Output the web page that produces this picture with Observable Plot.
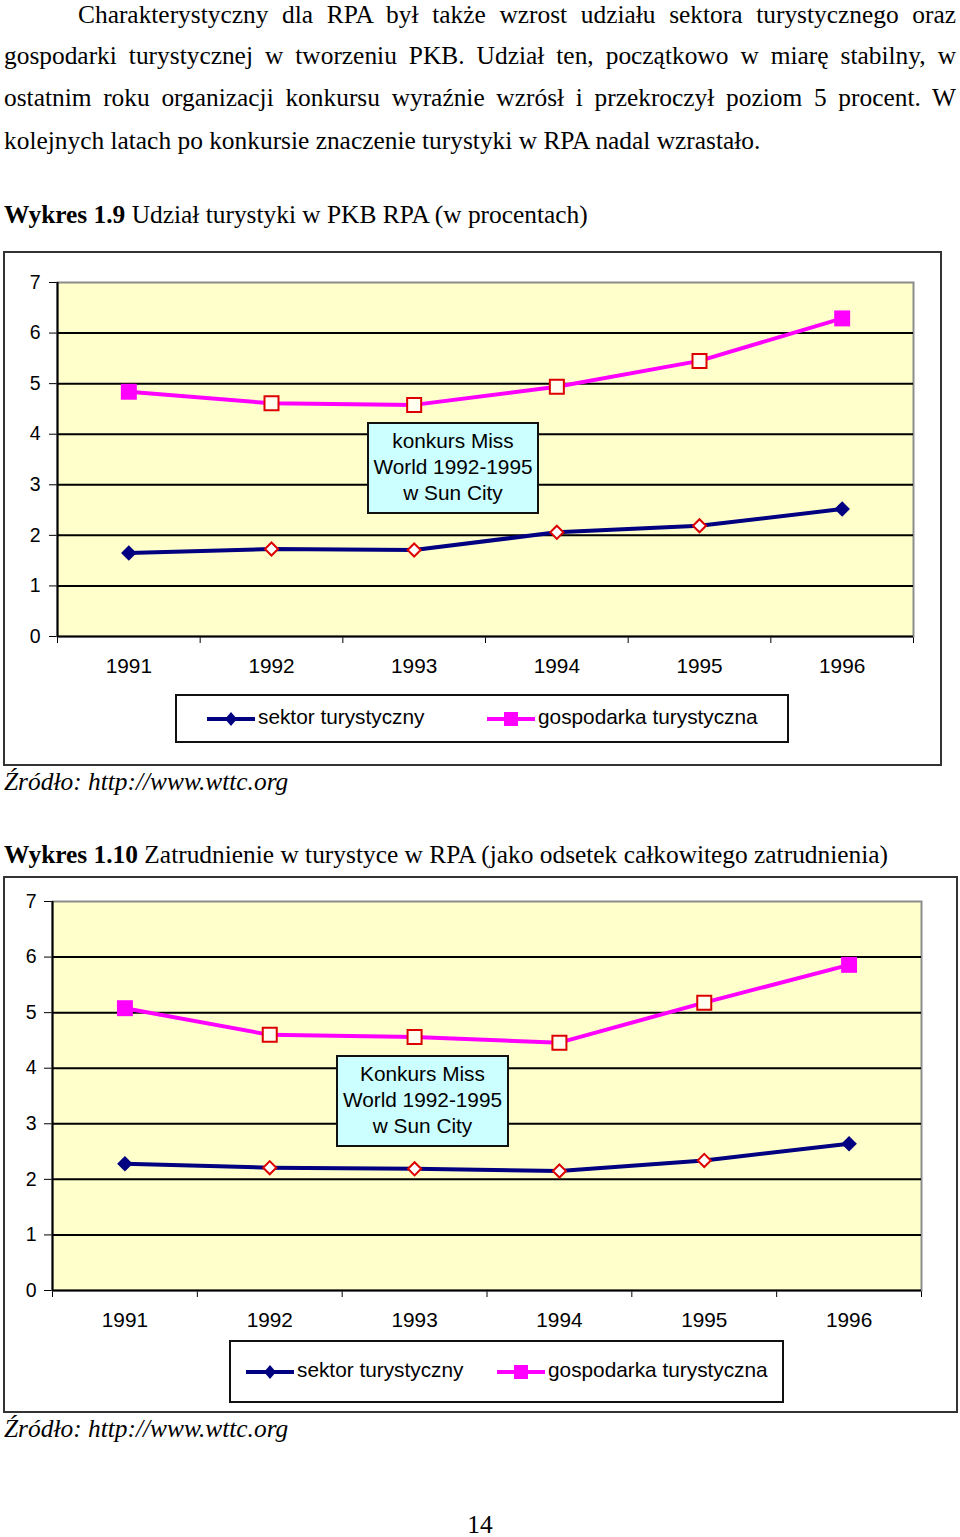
<!DOCTYPE html>
<html>
<head>
<meta charset="utf-8">
<script src="https://cdn.jsdelivr.net/npm/d3@7"></script>
<script src="https://cdn.jsdelivr.net/npm/@observablehq/plot@0.6"></script>
<style>
  html, body { margin: 0; padding: 0; background: #fff; }
  #page { position: relative; width: 960px; height: 1537px; overflow: hidden; background: #fff; color: #000; }
  .serif { font-family: "Liberation Serif", "Times New Roman", serif; font-size: 25.4px; line-height: 25px; position: absolute; white-space: nowrap; }
  .just { text-align: justify; text-align-last: justify; white-space: normal; }
  .box { position: absolute; box-sizing: border-box; border: 2px solid #333; }
  .note { position: absolute; box-sizing: border-box; border: 2px solid #111; background: #CCFFFF;
          font-family: "Liberation Sans", Arial, sans-serif; font-size: 20.8px; line-height: 26px;
          text-align: center; padding-top: 4px; white-space: nowrap; }
  .legend { position: absolute; box-sizing: border-box; border: 2px solid #111; background: #fff; }
  .legtext { position: absolute; font-family: "Liberation Sans", Arial, sans-serif; font-size: 20.8px; line-height: 20px; white-space: nowrap; }
  .sw { position: absolute; }
  .chart { position: absolute; }
</style>
</head>
<body>
<div id="page"></div>
<script>
// ---------- data ----------
const years = [1991, 1992, 1993, 1994, 1995, 1996];
const gdpSector  = [1.65, 1.73, 1.71, 2.06, 2.19, 2.52];
const gdpEconomy = [4.84, 4.61, 4.58, 4.94, 5.45, 6.29];
const empSector  = [2.28, 2.21, 2.19, 2.15, 2.34, 2.64];
const empEconomy = [5.08, 4.60, 4.56, 4.46, 5.18, 5.86];
const yTicks = [0, 1, 2, 3, 4, 5, 6, 7];
const seriesNames = ["sektor turystyczny", "gospodarka turystyczna"];
const note1 = ["konkurs Miss", "World 1992-1995", "w Sun City"];
const note2 = ["Konkurs Miss", "World 1992-1995", "w Sun City"];
const paragraph = [
  "Charakterystyczny dla RPA był także wzrost udziału sektora turystycznego oraz",
  "gospodarki turystycznej w tworzeniu PKB. Udział ten, początkowo w miarę stabilny, w",
  "ostatnim roku organizacji konkursu wyraźnie wzrósł i przekroczył poziom 5 procent. W",
  "kolejnych latach po konkursie znaczenie turystyki w RPA nadal wzrastało."
];
const title1 = ["Wykres 1.9", " Udział turystyki w PKB RPA (w procentach)"];
const title2 = ["Wykres 1.10", " Zatrudnienie w turystyce w RPA (jako odsetek całkowitego zatrudnienia)"];
const source = ["Źródło: http://www.wttc.org"];
const pageNumber = "14";

// ---------- styles ----------
const NAVY = "#000080", PINK = "#FF00FF", RED = "#DD0000", BG = "#FFFFCC";

const page = document.getElementById("page");
function el(tag, cls, style, html) {
  const e = document.createElement(tag);
  if (cls) e.className = cls;
  Object.assign(e.style, style || {});
  if (html != null) e.innerHTML = html;
  page.appendChild(e);
  return e;
}

// paragraph lines
const paraTops = [1.5, 42.5, 85, 128];
paragraph.forEach((t, i) => {
  const left = i === 0 ? 78 : 4;
  const last = i === paragraph.length - 1;
  const d = el("div", "serif" + (last ? "" : " just"), {left: left + "px", top: paraTops[i] + "px", width: (956 - left) + "px"});
  d.textContent = t;
});

function titleLine(parts, top) {
  const d = el("div", "serif", {left: "4px", top: top + "px"});
  d.innerHTML = "<b>" + parts[0] + "</b>" + parts[1];
}
titleLine(title1, 202);
titleLine(title2, 842);
el("div", "serif", {left: "4px", top: "769px", fontStyle: "italic"}).textContent = source[0];
el("div", "serif", {left: "4px", top: "1416px", fontStyle: "italic"}).textContent = source[0];
el("div", "serif", {left: "0px", width: "960px", textAlign: "center", top: "1514px", lineHeight: "20px"}).textContent = pageNumber;

// ---------- chart ----------
function makeChart(cfg) {
  const rows = vals => years.map((year, i) => ({year, value: vals[i], end: i === 0 || i === years.length - 1}));
  const sec = rows(cfg.sector), eco = rows(cfg.economy);
  const xDomain = [years[0] - 0.5, years[years.length - 1] + 0.5];
  const edges = d3.range(years.length + 1).map(i => xDomain[0] + i);
  const grid = yTicks.slice(0, -1);
  return Plot.plot({
    width: cfg.width, height: cfg.height,
    marginLeft: cfg.marginLeft, marginRight: cfg.marginRight,
    marginTop: cfg.marginTop, marginBottom: cfg.marginBottom,
    style: {fontFamily: '"Liberation Sans", Arial, sans-serif', fontSize: "19.5px", background: "transparent", color: "#000", overflow: "visible"},
    x: {type: "linear", domain: xDomain, ticks: edges, tickSize: 7, tickFormat: () => "", label: null},
    y: {domain: [0, 7], ticks: yTicks, tickSize: 8, tickPadding: cfg.yPad, tickFormat: d => String(d), label: null},
    marks: [
      Plot.frame({fill: BG, stroke: "#8c8c8c", strokeWidth: 2}),
      Plot.ruleY(grid, {stroke: "#000", strokeWidth: 2}),
      Plot.ruleX([xDomain[0]], {stroke: "#000", strokeWidth: 2}),
      Plot.text(years, {x: d => d, frameAnchor: "bottom", dy: 36, text: d => String(d), fontSize: 20.8, fill: "#000"}),
      Plot.line(sec, {x: "year", y: "value", stroke: NAVY, strokeWidth: 4}),
      Plot.line(eco, {x: "year", y: "value", stroke: PINK, strokeWidth: 4}),
      Plot.dot(sec, {filter: d => d.end, x: "year", y: "value", symbol: "diamond2", r: 7, fill: NAVY, stroke: "none"}),
      Plot.dot(sec, {filter: d => !d.end, x: "year", y: "value", symbol: "diamond2", r: 5.9, fill: "#FFFFFF", stroke: RED, strokeWidth: 2}),
      Plot.dot(eco, {filter: d => d.end, x: "year", y: "value", symbol: "square", r: 9, fill: PINK, stroke: "none"}),
      Plot.dot(eco, {filter: d => !d.end, x: "year", y: "value", symbol: "square", r: 7.9, fill: "#FFFFF0", stroke: RED, strokeWidth: 2})
    ]
  });
}

function swatch(kind, left, cy) {
  const ns = "http://www.w3.org/2000/svg";
  const s = document.createElementNS(ns, "svg");
  s.setAttribute("width", 48); s.setAttribute("height", 20);
  s.setAttribute("class", "sw");
  s.style.left = left + "px"; s.style.top = (cy - 10) + "px";
  const color = kind === 0 ? NAVY : PINK;
  s.innerHTML = `<line x1="0" x2="48" y1="10" y2="10" stroke="${color}" stroke-width="4"/>` +
    (kind === 0
      ? `<path d="M24,3 L30,10 L24,17 L18,10 Z" fill="${NAVY}"/>`
      : `<rect x="17" y="3" width="14" height="14" fill="${PINK}"/>`);
  page.appendChild(s);
}

function buildPanel(p) {
  el("div", "box", {left: p.box[0] + "px", top: p.box[1] + "px", width: p.box[2] + "px", height: p.box[3] + "px"});
  const svg = makeChart(p.chart);
  svg.classList.add("chart");
  svg.style.left = p.box[0] + "px";
  svg.style.top = p.box[1] + "px";
  page.appendChild(svg);
  const n = el("div", "note", {left: p.note[0] + "px", top: p.note[1] + "px", width: p.note[2] + "px", height: p.note[3] + "px"});
  n.innerHTML = p.noteLines.join("<br>");
  el("div", "legend", {left: p.legend[0] + "px", top: p.legend[1] + "px", width: p.legend[2] + "px", height: p.legend[3] + "px"});
  const cy = p.legend[1] + p.legend[3] / 2;
  p.legItems.forEach((x, k) => {
    swatch(k, x, cy);
    el("div", "legtext", {left: (x + 51) + "px", top: (cy - 12) + "px"}).textContent = seriesNames[k];
  });
}

buildPanel({
  box: [3, 251, 939, 515],
  chart: {width: 939, height: 440, marginLeft: 54, marginRight: 29, marginTop: 31, marginBottom: 55, yPad: 9, sector: gdpSector, economy: gdpEconomy},
  note: [367, 422, 172, 92], noteLines: note1,
  legend: [175, 694, 614, 49], legItems: [207, 487]
});
buildPanel({
  box: [3, 876, 955, 537],
  chart: {width: 955, height: 460, marginLeft: 49, marginRight: 37, marginTop: 25, marginBottom: 46, yPad: 8, sector: empSector, economy: empEconomy},
  note: [336, 1055, 173, 92], noteLines: note2,
  legend: [229, 1340, 555, 63], legItems: [246, 497]
});
</script>
</body>
</html>
